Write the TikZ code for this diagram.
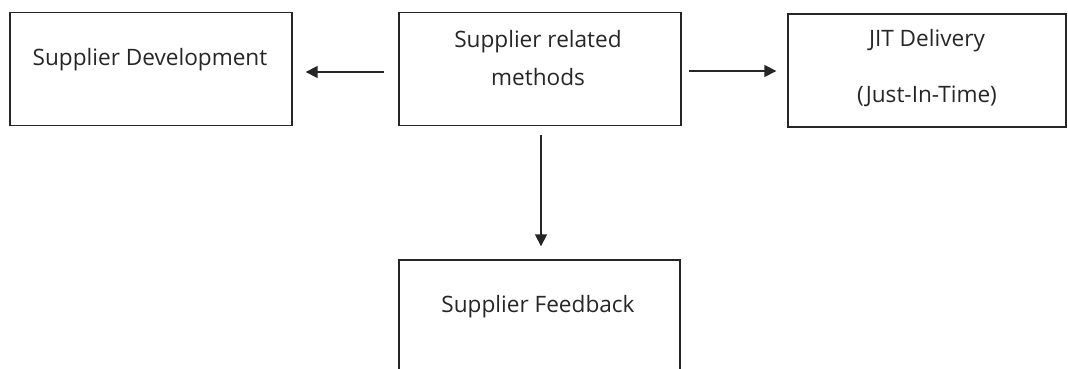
\documentclass[tikz,border=0pt]{standalone}
\usepackage{fontspec}
\setmainfont{Open Sans}
\usetikzlibrary{arrows.meta}
\definecolor{ink}{HTML}{262626}
\tikzset{
  x=1pt, y=1pt,
  boxnode/.style={draw=ink, line width=1.4pt, rectangle, inner sep=0pt},
  lbl/.style={text=ink, font=\fontsize{22.6}{27}\selectfont, inner sep=0pt},
  arr/.style={draw=ink, line width=1.6pt, -{Triangle[length=12pt,width=12pt]}},
}
\begin{document}
\begin{tikzpicture}
  \useasboundingbox (0,0) rectangle (1068,-369);
  \begin{scope}
    \clip (0,0) rectangle (1068,-369);
    % boxes
    \node[boxnode, minimum width=282, minimum height=113] (dev)  at (151,-69)   {};
    \node[boxnode, minimum width=282, minimum height=113] (meth) at (540,-69)   {};
    \node[boxnode, minimum width=278, minimum height=113] (jit)  at (927,-70.5) {};
    \node[boxnode, minimum width=281, minimum height=140] (fb)   at (539.5,-330) {};
    % labels
    \node[lbl] (tdev)  at (150,-60)  {Supplier Development};
    \node[lbl] (tm1)   at (538,-42)  {Supplier related};
    \node[lbl] (tm2)   at (538,-77)  {methods};
    \node[lbl] (tj1)   at (927,-41)  {JIT Delivery};
    \node[lbl] (tj2)   at (927,-96)  {(Just-In-Time)};
    \node[lbl] (tfb)   at (538,-307) {Supplier Feedback};
    % connectors
    \draw[arr, shorten <=14pt, shorten >=13pt]
      ([yshift=-3pt]meth.west) -- ([yshift=-3pt]meth.west -| dev.east);
    \draw[arr, shorten <=7pt, shorten >=11pt]
      ([yshift=-2pt]meth.east) -- ([yshift=-2pt]meth.east -| jit.west);
    \draw[arr, shorten <=9pt, shorten >=13pt]
      ([xshift=1pt]meth.south) -- ([xshift=1pt]meth.south |- fb.north);
  \end{scope}
\end{tikzpicture}
\end{document}
